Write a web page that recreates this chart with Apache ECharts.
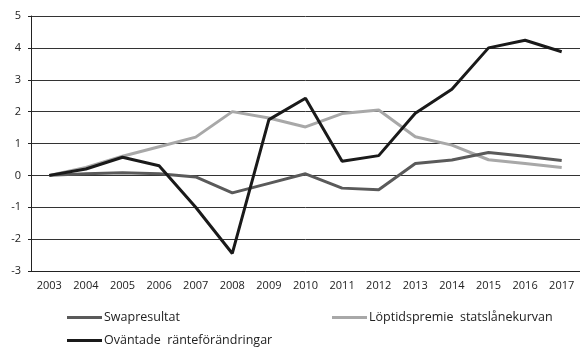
<!DOCTYPE html>
<html><head><meta charset="utf-8">
<script src="https://cdn.jsdelivr.net/npm/echarts@6/dist/echarts.min.js"></script>
<style>html,body{margin:0;padding:0;background:#fff}#c{width:580px;height:348px}</style>
</head><body><div id="c"></div>
<script>
const years = ['2003','2004','2005','2006','2007','2008','2009','2010','2011','2012','2013','2014','2015','2016','2017'];
const swapresultat = [0, 0.05, 0.08, 0.05, -0.05, -0.55, -0.25, 0.05, -0.4, -0.45, 0.37, 0.48, 0.72, 0.6, 0.47];
const loptidspremie = [0, 0.25, 0.6, 0.9, 1.2, 2.0, 1.8, 1.52, 1.94, 2.05, 1.21, 0.95, 0.49, 0.37, 0.25];
const ovantade = [0, 0.2, 0.57, 0.3, -1.0, -2.45, 1.75, 2.42, 0.44, 0.62, 1.95, 2.7, 4.0, 4.24, 3.88];
const names = ['Swapresultat', 'Löptidspremie  statslånekurvan', 'Oväntade  ränteförändringar'];
const colors = ['#5a5a5a', '#a8a8a8', '#1a1a1a'];
const font = '"Open Sans", sans-serif';
const chart = echarts.init(document.getElementById('c'));
const mkLegend = (name, left, top) => ({
  data: [name], left: left, top: top, icon: 'rect', itemWidth: 35, itemHeight: 3, itemGap: 0,
  textStyle: {fontFamily: font, fontSize: 12.5, color: '#222', padding: [0,0,0,-3]}, padding: 0
});
chart.setOption({
  animation: false,
  color: colors,
  textStyle: {fontFamily: font},
  grid: {left: 31, top: 16, width: 554, height: 255, containLabel: false},
  legend: [mkLegend(names[0], 67, 311), mkLegend(names[1], 332, 311), mkLegend(names[2], 67, 334)],
  xAxis: {
    type: 'category', data: years, boundaryGap: true,
    axisLine: {onZero: false, lineStyle: {color: '#222', width: 1}},
    axisTick: {show: false},
    axisLabel: {color: '#222', fontSize: 11, fontFamily: font, margin: 9}
  },
  yAxis: {
    type: 'value', min: -3, max: 5, interval: 1,
    axisLine: {show: true, lineStyle: {color: '#222', width: 1}},
    axisTick: {show: true, length: 3, lineStyle: {color: '#222'}},
    axisLabel: {color: '#222', fontSize: 11, fontFamily: font, margin: 10},
    splitLine: {lineStyle: {color: '#333', width: 1}}
  },
  series: [
    {name: names[0], type: 'line', data: swapresultat, symbol: 'none', lineStyle: {width: 3, color: colors[0]}, z: 3},
    {name: names[1], type: 'line', data: loptidspremie, symbol: 'none', lineStyle: {width: 3, color: colors[1]}, z: 2},
    {name: names[2], type: 'line', data: ovantade, symbol: 'none', lineStyle: {width: 3, color: colors[2]}, z: 4}
  ]
});
</script></body></html>
